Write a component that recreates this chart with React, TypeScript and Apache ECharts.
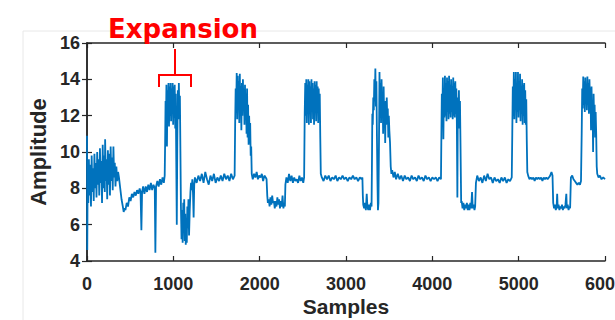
import React, { useEffect, useRef } from "react";
import * as echarts from "echarts";

type Pt = [number, number];

// Amplitude readings, [sample, amplitude]
const startNoise: Pt[] = [
  [0, 10.9], [3, 4.6], [8, 9.0], [15, 7.2], [22, 9.6], [30, 7.6], [38, 9.3], [46, 7.0], [54, 9.8],
  [62, 7.8], [70, 9.1], [78, 7.3], [86, 9.9], [94, 8.0], [102, 9.4], [110, 7.5], [118, 10.0],
  [126, 8.2], [134, 9.6], [142, 7.6], [150, 10.2], [158, 8.3], [166, 9.5], [174, 7.2], [182, 10.4],
  [190, 8.0], [198, 9.8], [206, 7.8], [210, 10.7], [218, 8.4], [226, 9.6], [234, 7.4], [242, 10.1],
  [250, 8.2], [258, 9.9], [266, 7.6], [274, 10.3], [282, 8.4], [290, 9.7], [298, 7.9], [306, 10.3],
  [314, 8.6], [322, 9.4], [330, 8.1], [340, 9.2], [350, 8.4], [360, 8.9],
];
const driftBaseline: Pt[] = [
  [370, 8.6], [385, 8.0], [400, 7.4], [415, 7.0], [425, 6.7], [435, 6.9], [445, 6.8], [460, 7.2],
  [475, 7.0], [490, 7.5], [505, 7.3], [520, 7.7], [535, 7.5], [550, 7.8], [565, 7.6], [580, 7.9],
  [595, 7.7], [610, 8.0], [620, 7.8], [630, 5.7], [638, 7.8], [650, 8.1], [665, 7.7], [680, 8.1],
  [695, 7.8], [710, 8.2], [725, 7.9], [740, 8.3], [755, 7.9], [770, 8.2], [785, 8.0], [792, 4.45],
  [800, 8.1], [815, 8.4], [830, 8.1], [845, 8.5], [860, 8.2], [875, 8.6], [890, 8.3], [900, 8.7],
];
const burst1: Pt[] = [
  [905, 10.5], [910, 12.8], [915, 11.6], [920, 13.7], [926, 10.3], [932, 13.4], [938, 11.8],
  [944, 13.8], [950, 11.4], [956, 13.6], [962, 12.0], [968, 13.8], [974, 11.7], [980, 13.5],
  [986, 12.2], [992, 13.8], [998, 11.5], [1004, 13.6], [1010, 11.9], [1016, 13.7], [1022, 11.3],
  [1028, 13.2], [1034, 9.5], [1040, 6.0], [1046, 10.5], [1052, 13.4], [1058, 11.8], [1064, 13.8],
  [1070, 12.0], [1076, 13.1], [1082, 10.0], [1088, 7.0],
];
const dip1: Pt[] = [
  [1095, 5.2], [1102, 6.8], [1108, 5.0], [1115, 7.2], [1120, 5.6], [1126, 7.4], [1132, 5.1],
  [1138, 6.6], [1144, 4.9], [1150, 6.2], [1156, 5.0], [1162, 7.0], [1168, 5.8], [1175, 7.4],
  [1182, 5.4], [1190, 6.8], [1198, 7.8], [1205, 8.3], [1212, 7.9], [1220, 8.5], [1228, 7.7],
  [1235, 6.4], [1242, 8.2], [1250, 8.6],
];
const rest1: Pt[] = [
  [1270, 8.3], [1290, 8.7], [1310, 8.4], [1330, 8.8], [1350, 8.3], [1370, 8.9], [1390, 8.5],
  [1410, 8.2], [1430, 8.7], [1450, 8.4], [1470, 8.8], [1490, 8.3], [1510, 8.6], [1530, 8.4],
  [1550, 8.7], [1570, 8.4], [1590, 8.8], [1610, 8.5], [1630, 8.7], [1650, 8.4], [1670, 8.8],
  [1690, 8.5], [1710, 8.7],
];
const burst2: Pt[] = [
  [1716, 11.5], [1722, 13.5], [1728, 12.2], [1734, 14.35], [1740, 11.8], [1746, 14.2],
  [1752, 12.5], [1758, 13.9], [1764, 11.6], [1770, 14.3], [1776, 12.3], [1782, 13.6], [1788, 11.2],
  [1794, 13.8], [1800, 12.0], [1806, 14.0], [1812, 12.4], [1818, 13.4], [1824, 11.5], [1830, 13.7],
  [1836, 12.1], [1842, 13.2], [1848, 11.0], [1854, 13.5], [1860, 10.8], [1866, 12.6], [1872, 10.4],
  [1878, 12.0], [1884, 10.8], [1890, 11.6], [1896, 9.8], [1902, 10.3], [1908, 8.8],
];
const rest2: Pt[] = [
  [1920, 8.5], [1935, 8.8], [1950, 8.6], [1965, 8.9], [1980, 8.5], [1995, 8.7], [2010, 8.6],
  [2025, 8.8], [2040, 8.4], [2055, 8.7], [2070, 8.6], [2080, 8.5],
];
const dip2: Pt[] = [
  [2088, 7.6], [2095, 7.2], [2105, 7.4], [2115, 7.0], [2125, 7.5], [2135, 7.1], [2145, 7.6],
  [2155, 7.2], [2165, 7.3], [2175, 6.9], [2185, 7.3], [2195, 7.0], [2205, 7.5], [2215, 7.1],
  [2225, 7.4], [2235, 6.9], [2245, 7.3], [2255, 7.0], [2265, 7.6], [2275, 6.9], [2285, 7.2],
  [2292, 7.0],
];
const rest3: Pt[] = [
  [2298, 8.2], [2310, 8.6], [2325, 8.3], [2340, 8.8], [2355, 8.4], [2370, 8.7], [2385, 8.3],
  [2400, 8.6], [2415, 8.4], [2430, 8.5], [2445, 8.3], [2460, 8.7], [2475, 8.4], [2490, 8.6],
  [2505, 8.3], [2515, 8.6],
];
const burst3: Pt[] = [
  [2522, 12.2], [2528, 13.8], [2534, 12.0], [2540, 14.0], [2546, 11.6], [2552, 13.7], [2558, 12.4],
  [2564, 14.0], [2570, 11.5], [2576, 13.9], [2582, 12.2], [2588, 13.6], [2594, 11.6], [2600, 14.0],
  [2606, 12.5], [2612, 13.8], [2618, 11.8], [2624, 13.5], [2630, 11.5], [2636, 13.9], [2642, 12.3],
  [2648, 13.7], [2654, 11.7], [2660, 13.9], [2666, 12.4], [2672, 13.6], [2678, 11.6], [2684, 13.5],
  [2690, 12.1], [2696, 13.2], [2702, 10.8], [2708, 8.8],
];
const rest4: Pt[] = [
  [2720, 8.6], [2740, 8.4], [2760, 8.7], [2780, 8.5], [2800, 8.7], [2820, 8.4], [2840, 8.6],
  [2860, 8.5], [2880, 8.7], [2900, 8.4], [2920, 8.6], [2940, 8.5], [2960, 8.7], [2980, 8.5],
  [3000, 8.6], [3020, 8.4], [3040, 8.6], [3060, 8.5], [3080, 8.7], [3100, 8.5], [3120, 8.6],
  [3140, 8.4], [3160, 8.6], [3180, 8.5], [3190, 8.6],
];
const dip3: Pt[] = [
  [3195, 7.6], [3200, 7.1], [3210, 6.9], [3220, 7.2], [3230, 6.8], [3240, 7.7], [3248, 7.0],
  [3258, 6.8], [3268, 7.1], [3278, 6.8], [3288, 7.2], [3296, 7.0],
];
const burst4: Pt[] = [
  [3300, 9.0], [3305, 12.1], [3310, 11.5], [3316, 13.0], [3322, 12.3], [3328, 14.0], [3334, 12.8],
  [3340, 14.6], [3346, 12.5], [3352, 13.9], [3358, 11.0], [3364, 8.5], [3370, 6.8], [3376, 7.2],
  [3382, 10.5], [3388, 14.4], [3394, 12.0], [3400, 13.8], [3406, 11.6], [3412, 14.0], [3418, 12.2],
  [3424, 13.2], [3430, 11.0], [3436, 13.6], [3442, 11.8], [3448, 12.6], [3454, 10.5], [3460, 12.8],
  [3466, 11.5], [3472, 13.0], [3478, 11.8], [3484, 12.4], [3490, 10.8], [3496, 12.0], [3502, 11.2],
  [3510, 10.5], [3518, 9.2], [3526, 8.8],
];
const rest5: Pt[] = [
  [3535, 9.0], [3550, 8.6], [3565, 8.9], [3580, 8.5], [3600, 8.8], [3620, 8.5], [3640, 8.7],
  [3660, 8.4], [3680, 8.7], [3700, 8.5], [3720, 8.6], [3740, 8.4], [3760, 8.7], [3780, 8.5],
  [3800, 8.6], [3820, 8.4], [3840, 8.7], [3860, 8.5], [3880, 8.6], [3900, 8.4], [3920, 8.7],
  [3940, 8.5], [3960, 8.6], [3980, 8.4], [4000, 8.6], [4020, 8.5], [4040, 8.6], [4060, 8.4],
  [4080, 8.6], [4100, 8.5],
];
const burst5: Pt[] = [
  [4105, 11.0], [4110, 13.2], [4116, 11.8], [4122, 14.1], [4128, 10.7], [4134, 13.5], [4140, 11.9],
  [4146, 14.2], [4152, 12.0], [4158, 13.8], [4164, 11.7], [4170, 14.1], [4176, 12.2], [4182, 13.9],
  [4188, 11.8], [4194, 14.2], [4200, 12.1], [4206, 13.7], [4212, 11.9], [4218, 14.0], [4224, 12.2],
  [4230, 13.6], [4236, 11.8], [4242, 14.1], [4248, 12.0], [4254, 13.8], [4260, 11.9], [4266, 13.9],
  [4272, 12.1], [4278, 13.5], [4284, 11.6], [4290, 7.5], [4296, 13.0], [4302, 11.7], [4308, 13.4],
  [4314, 11.3], [4320, 12.8], [4326, 10.5], [4334, 7.2],
];
const dip4: Pt[] = [
  [4340, 7.3], [4350, 6.9], [4360, 7.2], [4370, 6.8], [4380, 7.1], [4390, 6.9], [4400, 7.2],
  [4410, 6.8], [4420, 7.1], [4430, 6.8], [4440, 7.2], [4450, 6.9], [4460, 7.8], [4468, 6.9],
  [4478, 7.1], [4488, 6.8], [4496, 7.0],
];
const rest6: Pt[] = [
  [4505, 8.3], [4520, 8.7], [4540, 8.4], [4560, 8.6], [4580, 8.3], [4600, 8.7], [4620, 8.4],
  [4640, 8.8], [4660, 8.5], [4680, 8.6], [4700, 8.3], [4720, 8.6], [4740, 8.4], [4760, 8.5],
  [4780, 8.3], [4800, 8.6], [4820, 8.4], [4840, 8.6], [4860, 8.3], [4880, 8.5], [4900, 8.4],
  [4920, 8.6],
];
const burst6: Pt[] = [
  [4926, 11.0], [4932, 13.6], [4938, 12.0], [4944, 14.4], [4950, 11.8], [4956, 14.0], [4962, 12.4],
  [4968, 14.4], [4974, 11.6], [4980, 13.8], [4986, 12.2], [4992, 14.4], [4998, 11.9], [5004, 13.9],
  [5010, 12.3], [5016, 14.3], [5022, 11.7], [5028, 13.6], [5034, 12.1], [5040, 14.0], [5046, 11.5],
  [5052, 13.7], [5058, 12.0], [5064, 13.8], [5070, 11.6], [5076, 13.4], [5082, 11.5], [5088, 12.9],
  [5094, 10.6], [5100, 8.9],
];
const rest7: Pt[] = [
  [5110, 8.7], [5125, 8.5], [5140, 8.6], [5155, 8.5], [5170, 8.6], [5185, 8.4], [5200, 8.6],
  [5215, 8.5], [5230, 8.6], [5245, 8.5], [5260, 8.6], [5275, 8.4], [5290, 8.6], [5305, 8.5],
  [5320, 8.6], [5335, 8.5], [5350, 8.6], [5365, 8.7], [5380, 8.9], [5392, 8.7],
];
const dip5: Pt[] = [
  [5400, 7.2], [5410, 6.9], [5420, 7.1], [5430, 6.8], [5440, 7.0], [5446, 7.7], [5452, 6.9],
  [5462, 7.1], [5472, 6.8], [5482, 7.0], [5492, 6.9], [5502, 7.1], [5512, 6.8], [5522, 7.0],
  [5532, 6.9], [5542, 7.1], [5552, 7.7], [5558, 6.9], [5568, 7.1], [5578, 6.8], [5588, 7.0],
  [5596, 6.9],
];
const rest8: Pt[] = [
  [5605, 8.6], [5620, 8.7], [5635, 8.5], [5650, 8.4], [5665, 8.3], [5680, 8.2], [5695, 8.3],
  [5710, 8.2], [5722, 8.4],
];
const burst7: Pt[] = [
  [5730, 11.0], [5736, 13.5], [5742, 12.4], [5748, 14.15], [5754, 12.6], [5760, 13.9], [5766, 12.2],
  [5772, 14.1], [5778, 12.8], [5784, 13.6], [5790, 12.3], [5796, 14.15], [5802, 12.6], [5808, 13.8],
  [5814, 12.1], [5820, 14.0], [5826, 12.7], [5832, 13.5], [5838, 11.2], [5844, 13.6], [5850, 11.6],
  [5856, 12.8], [5862, 10.0], [5868, 13.2], [5874, 11.8], [5880, 12.6], [5886, 10.8], [5892, 12.2],
  [5898, 11.0], [5904, 9.2],
];
const tail: Pt[] = [
  [5910, 8.8], [5925, 8.6], [5940, 8.7], [5960, 8.5], [5980, 8.6], [6000, 8.5],
];

const xTicks = { min: 0, max: 6000, interval: 1000 };
const yTicks = { min: 4, max: 16, interval: 2 };

const INK = "#262626";
const FONT = "'Liberation Sans', Arial, sans-serif";

export default function App() {
  const ref = useRef<HTMLDivElement>(null);

  useEffect(() => {
    if (!ref.current) return;
    const chart = echarts.init(ref.current, null, { renderer: "svg" });
    const signal = [
      ...startNoise, ...driftBaseline, ...burst1, ...dip1, ...rest1, ...burst2, ...rest2, ...dip2,
      ...rest3, ...burst3, ...rest4, ...dip3, ...burst4, ...rest5, ...burst5, ...dip4, ...rest6,
      ...burst6, ...rest7, ...dip5, ...rest8, ...burst7, ...tail,
    ];
    const axisLine = { show: true, lineStyle: { color: INK, width: 1.5 } };
    const axisTick = { show: true, inside: true, length: 5, lineStyle: { color: INK, width: 1.2 } };
    const label = { color: INK, fontSize: 18, fontWeight: "bold" as const, fontFamily: FONT };
    chart.setOption({
      animation: false,
      backgroundColor: "#ffffff",
      grid: {
        left: 87, right: 10, top: 43, bottom: 59,
        containLabel: false, outerBoundsMode: "none",
      },
      xAxis: [
        {
          type: "value", position: "bottom", ...xTicks,
          name: "Samples", nameLocation: "middle", nameGap: 35, nameMoveOverlap: false,
          nameTextStyle: { color: INK, fontSize: 21, fontWeight: "bold", fontFamily: FONT },
          axisLine, axisTick,
          axisLabel: {
            ...label, margin: 14, showMinLabel: true, showMaxLabel: true, hideOverlap: false,
            formatter: (v: number) => String(v),
          },
          splitLine: { show: false },
        },
        {
          type: "value", position: "top", ...xTicks,
          axisLine, axisTick, axisLabel: { show: false }, splitLine: { show: false },
        },
      ],
      yAxis: [
        {
          type: "value", position: "left", ...yTicks,
          name: "Amplitude", nameLocation: "middle", nameGap: 38, nameMoveOverlap: false,
          nameTextStyle: { color: INK, fontSize: 22, fontWeight: "bold", fontFamily: FONT },
          axisLine, axisTick,
          axisLabel: { ...label, margin: 7, formatter: (v: number) => String(v) },
          splitLine: { show: false },
        },
        {
          type: "value", position: "right", ...yTicks,
          axisLine, axisTick, axisLabel: { show: false }, splitLine: { show: false },
        },
      ],
      series: [
        {
          type: "line",
          data: signal,
          xAxisIndex: 0,
          yAxisIndex: 0,
          showSymbol: false,
          symbol: "none",
          lineStyle: { color: "#0072BD", width: 1.8 },
          z: 3,
        },
      ],
      graphic: [
        {
          type: "rect", z: -10, silent: true,
          shape: { x: 23, y: 31, width: 640, height: 330 },
          style: { fill: "none", stroke: "#e8e8e8", lineWidth: 1 },
        },
        {
          type: "text", x: 183, y: 28.5, z: 10,
          style: {
            text: "Expansion", fill: "#ff0000", fontSize: 26, fontWeight: "bold",
            fontFamily: "'DejaVu Sans', sans-serif", align: "center", verticalAlign: "middle",
          },
        },
        {
          type: "line", z: 10,
          shape: { x1: 175, y1: 49, x2: 175, y2: 75 },
          style: { stroke: "#ff0000", lineWidth: 2 },
        },
        {
          type: "polyline", z: 10,
          shape: { points: [[159, 87], [159, 75], [191, 75], [191, 87]] },
          style: { stroke: "#ff0000", lineWidth: 2, fill: "none" },
        },
      ],
    });
    return () => chart.dispose();
  }, []);

  return (
    <div
      ref={ref}
      style={{ position: "fixed", left: 0, top: 0, width: 615, height: 320, background: "#fff" }}
    />
  );
}
